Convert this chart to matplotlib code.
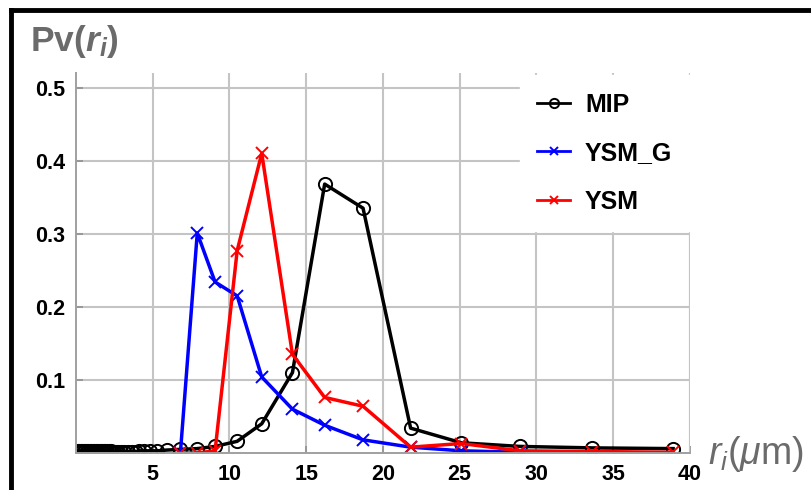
import matplotlib
matplotlib.use('Agg')
import matplotlib.pyplot as plt
from matplotlib.lines import Line2D

# 字体：Arial 风格（Liberation Sans），数学符号也用同一族
plt.rcParams['font.family'] = ['Liberation Sans', 'DejaVu Sans']
plt.rcParams['mathtext.fontset'] = 'custom'
plt.rcParams['mathtext.rm'] = 'Liberation Sans'
plt.rcParams['mathtext.it'] = 'Liberation Sans:italic'
plt.rcParams['mathtext.bf'] = 'Liberation Sans:bold'
plt.rcParams['mathtext.bfit'] = 'Liberation Sans:italic:bold'

# ------------------------------
# 数据（从图上读出来的近似值）
# ------------------------------
mip_r = [0.1, 0.2, 0.3, 0.4, 0.5, 0.6, 0.7, 0.8, 0.9, 1.0, 1.1, 1.2, 1.3,
         1.4, 1.5, 1.6, 1.7, 1.8, 1.9, 2.0, 2.15, 2.3, 2.45, 2.6, 2.75,
         2.95, 3.15, 3.4, 3.65, 3.9, 4.1, 4.45, 4.8, 5.3, 5.9, 6.8, 7.9,
         9.06, 10.5, 12.1, 14.1, 16.2, 18.7, 21.8, 25.1, 28.9, 33.6, 38.9]
mip_pv = [0.003, 0.003, 0.003, 0.003, 0.003, 0.003, 0.003, 0.003, 0.003,
          0.003, 0.003, 0.003, 0.003, 0.003, 0.003, 0.003, 0.003, 0.003,
          0.003, 0.003, 0.003, 0.003, 0.002, 0.002, 0.002, 0.002, 0.002,
          0.002, 0.002, 0.002, 0.003, 0.003, 0.003, 0.003, 0.004, 0.005,
          0.006, 0.009, 0.016, 0.040, 0.110, 0.368, 0.335, 0.034, 0.014,
          0.009, 0.007, 0.006]

ysmg_r = [6.8, 7.9, 9.06, 10.5, 12.1, 14.1, 16.2, 18.7, 21.8, 25.1, 28.9]
ysmg_pv = [0.0, 0.301, 0.234, 0.215, 0.104, 0.060, 0.038, 0.018, 0.008, 0.003, 0.001]

ysm_r = [6.8, 7.9, 9.06, 10.5, 12.1, 14.1, 16.2, 18.7, 21.8, 25.1, 28.9, 33.6, 38.9]
ysm_pv = [0.0, 0.0, 0.003, 0.277, 0.410, 0.135, 0.076, 0.064, 0.008, 0.013, 0.003, 0.002, 0.001]

x_ticks = [5, 10, 15, 20, 25, 30, 35, 40]
y_ticks = [0.1, 0.2, 0.3, 0.4, 0.5]

W, H = 812, 490
fig = plt.figure(figsize=(W / 100, H / 100), dpi=100)
ax = fig.add_axes([76 / W, 1 - 453 / H, (690 - 76) / W, (453 - 73) / H])

GRID = '#c4c4c4'
ax.set_xlim(0, 40)
ax.set_ylim(0, 0.52)
ax.set_xticks(x_ticks)
ax.set_yticks(y_ticks)
ax.grid(True, color=GRID, linewidth=1.5)
ax.axvline(40, color=GRID, linewidth=1.5)
ax.set_axisbelow(True)

for s in ['top', 'right']:
    ax.spines[s].set_visible(False)
for s in ['left', 'bottom']:
    ax.spines[s].set_color('#a0a0a0')
    ax.spines[s].set_linewidth(1.4)

ax.tick_params(direction='in', length=5, width=1.2, color='#909090',
               labelsize=15.5, pad=8)
for lab in ax.get_xticklabels() + ax.get_yticklabels():
    lab.set_fontweight('bold')

# 曲线
ax.plot(mip_r, mip_pv, color='black', lw=2.5, marker='o', ms=9.5,
        mfc='none', mec='black', mew=1.4, label='MIP')
ax.plot(ysmg_r, ysmg_pv, color='#0000ff', lw=2.5, marker='x', ms=8,
        mew=1.4, label='YSM_G')
ax.plot(ysm_r, ysm_pv, color='#ff0000', lw=2.5, marker='x', ms=8,
        mew=1.4, label='YSM')

leg = ax.legend(loc='upper left', bbox_to_anchor=(520 / W, 1 - 75 / H),
                bbox_transform=fig.transFigure, prop={'weight': 'bold', 'size': 18},
                frameon=True, fancybox=False, framealpha=1, edgecolor='white',
                handlelength=1.3, handletextpad=0.6, borderpad=0.7,
                labelspacing=0.98, markerscale=0.7, borderaxespad=0)
for h in leg.get_lines():
    h.set_linewidth(2.0)

# 纵轴标题、横轴标题
fig.text(30 / W, 1 - 51 / H, r'Pv($\mathbfit{r}_\mathbfit{i}$)', fontsize=25.5,
         fontweight='bold', color='#6b6b6b', ha='left', va='baseline')
fig.text(708 / W, 1 - 464 / H, r'$r_i$($\mu$m)', fontsize=27,
         color='#6b6b6b', ha='left', va='baseline')

# 外框（上边、左边）
fig.add_artist(Line2D([11 / W, 1], [1 - 10 / H, 1 - 10 / H], color='black', lw=3.5,
                      transform=fig.transFigure))
fig.add_artist(Line2D([11 / W, 11 / W], [0, 1 - 10 / H], color='black', lw=3.5,
                      transform=fig.transFigure))

fig.savefig('out.png', dpi=100, facecolor='white')
